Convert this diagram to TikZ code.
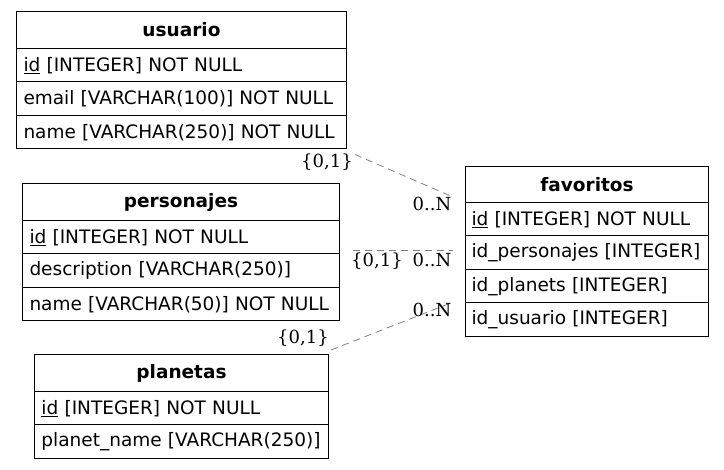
\documentclass[tikz,border=0pt]{standalone}
\usepackage{fontspec}
\setmainfont{DejaVu Sans}
\newfontfamily\cardfont{DejaVu Serif}
\usetikzlibrary{positioning}

\tikzstyle{header}=[draw, line width=1pt, anchor=north west, inner sep=0pt, minimum height=37pt, align=center, font=\fontsize{18.5}{20}\selectfont\bfseries]
\tikzstyle{field}=[draw, line width=1pt, anchor=north west, inner xsep=7pt, inner ysep=0pt, minimum height=33.5pt, align=left, font=\fontsize{18.5}{20}\selectfont]
\tikzstyle{relation}=[draw, gray, line width=0.8pt, dashed, dash pattern=on 7pt off 5pt]
\tikzstyle{card}=[inner sep=0pt, font=\fontsize{18}{20}\selectfont\cardfont]

\begin{document}
\begin{tikzpicture}[x=1pt, y=-1pt]
    \useasboundingbox (0,0) rectangle (724,470);

    % usuario
    \node[header, minimum width=330pt, text width=330pt] (usuario) at (16,11) {usuario};
    \foreach \i/\txt in {1/{\underline{id} [INTEGER] NOT NULL}, 2/{email [VARCHAR(100)] NOT NULL}, 3/{name [VARCHAR(250)] NOT NULL}} {
        \node[field, minimum width=330pt, text width=316pt] (usuario\i) at (16,{48+33.5*(\i-1)}) {\mbox{\txt}};
    }

    % personajes
    \node[header, minimum width=317pt, text width=317pt] (personajes) at (22,183) {personajes};
    \foreach \i/\txt in {1/{\underline{id} [INTEGER] NOT NULL}, 2/{description [VARCHAR(250)]}, 3/{name [VARCHAR(50)] NOT NULL}} {
        \node[field, minimum width=317pt, text width=303pt] (personajes\i) at (22,{220+33.5*(\i-1)}) {\mbox{\txt}};
    }

    % planetas
    \node[header, minimum width=294pt, text width=294pt] (planetas) at (34,354) {planetas};
    \foreach \i/\txt in {1/{\underline{id} [INTEGER] NOT NULL}, 2/{planet\_name [VARCHAR(250)]}} {
        \node[field, minimum width=294pt, text width=280pt] (planetas\i) at (34,{391+33.5*(\i-1)}) {\mbox{\txt}};
    }

    % favoritos
    \node[header, minimum width=243pt, text width=243pt, minimum height=36pt] (favoritos) at (465,166) {favoritos};
    \foreach \i/\txt in {1/{\underline{id} [INTEGER] NOT NULL}, 2/{id\_personajes [INTEGER]}, 3/{id\_planets [INTEGER]}, 4/{id\_usuario [INTEGER]}} {
        \node[field, minimum width=243pt, text width=231pt, inner xsep=6pt] (favoritos\i) at (465,{202+33.5*(\i-1)}) {\mbox{\txt}};
    }

    % relations
    \path[relation] ([shift={(8,5)}]usuario3.south east) -- ([shift={(-12,-6)}]favoritos.south west);
    \path[relation] ([shift={(13,-4)}]personajes1.south east) -- ([shift={(-12,-4)}]favoritos2.west |- personajes1.south);
    \path[relation] ([shift={(2,-4)}]planetas.north east) -- ([shift={(-13,-1)}]favoritos3.south west);

    % cardinalities
    \node[card] (c1a) at (327,162) {\{0,1\}};
    \node[card] (c1b) at (432,204) {0..N};
    \node[card] (c2a) at (377,261) {\{0,1\}};
    \node[card] (c2b) at (432,260) {0..N};
    \node[card] (c3a) at (303,338) {\{0,1\}};
    \node[card] (c3b) at (432,310) {0..N};
\end{tikzpicture}
\end{document}
